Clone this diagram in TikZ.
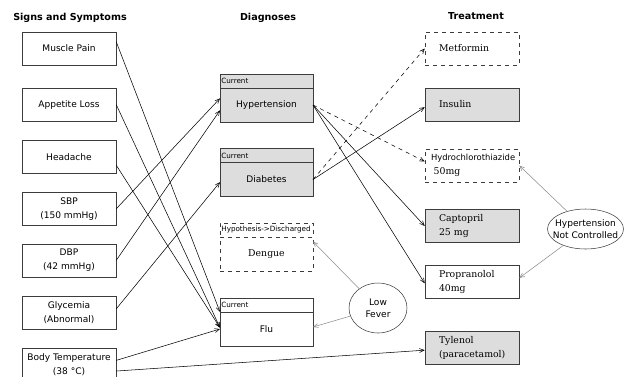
\documentclass[tikz,border=0pt]{standalone}
\usepackage{fontspec}
\setmainfont{DejaVu Serif}
\setsansfont{DejaVu Sans}
\usetikzlibrary{arrows.meta,positioning,shapes.geometric}
\definecolor{BoxGray}{RGB}{221,221,221}
\definecolor{EdgeGray}{RGB}{60,60,60}
\definecolor{HintGray}{RGB}{140,140,140}

\begin{document}
\begin{tikzpicture}[x=0.75pt,y=-0.75pt,
 title/.style={font=\sffamily\bfseries\fontsize{7.2}{9}\selectfont},
 symptom/.style={draw=EdgeGray,minimum width=70.5pt,minimum height=24.75pt,
 align=center,inner sep=1pt,font=\sffamily\fontsize{6.8}{10.5}\selectfont},
 diaghead/.style={draw=EdgeGray,outer sep=0pt,minimum height=10.5pt,inner ysep=0pt,
 inner xsep=1pt,text width=67.75pt,align=left,font=\sffamily\fontsize{5.4}{6}\selectfont},
 diagbody/.style={draw=EdgeGray,outer sep=0pt,minimum width=69.75pt,minimum height=25.5pt,
 inner sep=1pt,font=\sffamily\fontsize{6.8}{9}\selectfont},
 treat/.style={draw=EdgeGray,minimum height=24.75pt,inner xsep=10.5pt,inner ysep=1pt,
 text width=49.5pt,align=left,font=\fontsize{7}{10.5}\selectfont},
 current/.style={fill=BoxGray},
 maybe/.style={dashed},
 finding/.style={draw=EdgeGray,ellipse,inner sep=0pt,align=center,
 font=\sffamily\fontsize{6.8}{9}\selectfont},
 link/.style={-{Straight Barb[length=3.5pt,width=3pt]},line width=0.4pt},
 hint/.style={link,draw=HintGray}]
\useasboundingbox (0,0) rectangle (625,376);
% column titles
\node[title] (tsym) at (70,18) {Signs and Symptoms};
\node[title] (tdiag) at (268,18) {Diagnoses};
\node[title] (ttreat) at (476,16) {Treatment};
% signs and symptoms
\node[symptom] (muscle) at (69,48.5) {Muscle Pain};
\node[symptom,below=17pt of muscle] (appetite) {Appetite Loss};
\node[symptom,below=14.25pt of appetite] (headache) {Headache};
\node[symptom,below=13.5pt of headache] (sbp) {SBP\\(150 mmHg)};
\node[symptom,below=13.5pt of sbp] (dbp) {DBP\\(42 mmHg)};
\node[symptom,below=14.25pt of dbp] (glyc) {Glycemia\\(Abnormal)};
\node[symptom,below=13.5pt of glyc] (temp) {Body Temperature\\(38 \textdegree C)};
% diagnoses
\node[diaghead,current] (hyphead) at (266.5,81) {Current};
\node[diagbody,current,below=0pt of hyphead] (hyp) {Hypertension};
\node[diaghead,current] (diahead) at (266.5,155.5) {Current};
\node[diagbody,current,below=0pt of diahead] (dia) {Diabetes};
\node[diaghead,maybe] (denhead) at (266.5,230) {\mbox{Hypothesis->Discharged}};
\node[diagbody,maybe,below=0pt of denhead,font=\fontsize{7}{9}\selectfont] (dengue) {Dengue};
\node[diaghead] (fluhead) at (266.5,305) {Current};
\node[diagbody,below=0pt of fluhead] (flu) {Flu};
% treatment
\node[treat,maybe] (metf) at (472,48.5) {Metformin};
\node[treat,current] (insulin) at (472,104.5) {Insulin};
\node[treat,maybe,inner xsep=4.5pt,text width=61.5pt] (hydro) at (472,165.5)
 {{\sffamily\fontsize{6.3}{10.5}\selectfont Hydrochlorothiazide}\\\hspace*{2pt}50mg};
\node[treat,current] (capto) at (472,226) {Captopril\\25 mg};
\node[treat] (propra) at (472,282) {Propranolol\\40mg};
\node[treat,current] (tylenol) at (472,347.5) {Tylenol\\(paracetamol)};
% findings
\node[finding,minimum width=43.5pt,minimum height=37.5pt] (lowfever) at (378,308) {Low\\Fever};
\node[finding,minimum width=57pt,minimum height=30pt,inner xsep=-5pt] (hnc) at (585.5,229)
 {Hypertension\\Not Controlled};
% symptoms to diagnoses
\draw[link] ([yshift=5pt]muscle.east) -- (flu.north west);
\draw[link] (appetite.east) -- ([yshift=1pt]flu.west);
\draw[link] ([yshift=-6pt]headache.east) -- ([yshift=1pt]flu.west);
\draw[link] ([yshift=3pt]temp.east) -- (flu.west);
\draw[link] (sbp.east) -- ([yshift=5pt]hyp.west);
\draw[link] (dbp.east) -- ([yshift=-4pt]hyp.west);
\draw[link] ([yshift=3pt]glyc.east) -- ([yshift=-2pt]dia.west);
\draw[link] ([yshift=-5pt]temp.east) -- ([yshift=-2pt]tylenol.west);
% diagnoses to treatment
\draw[link,dashed] (dia.east) -- (metf.west);
\draw[link] (dia.east) -- ([yshift=-2pt]insulin.west);
\draw[link,dashed] (hyp.east) -- ([yshift=3pt]hydro.west);
\draw[link] (hyp.east) -- (capto.west);
\draw[link] (hyp.east) -- ([yshift=-1pt]propra.west);
% findings
\draw[hint] (lowfever) -- (dengue.15);
\draw[hint] (lowfever) -- ([yshift=1.5pt]flu.east);
\draw[hint] (hnc) -- (hydro.east);
\draw[hint] (hnc) -- ([yshift=3pt]propra.east);
\end{tikzpicture}
\end{document}
